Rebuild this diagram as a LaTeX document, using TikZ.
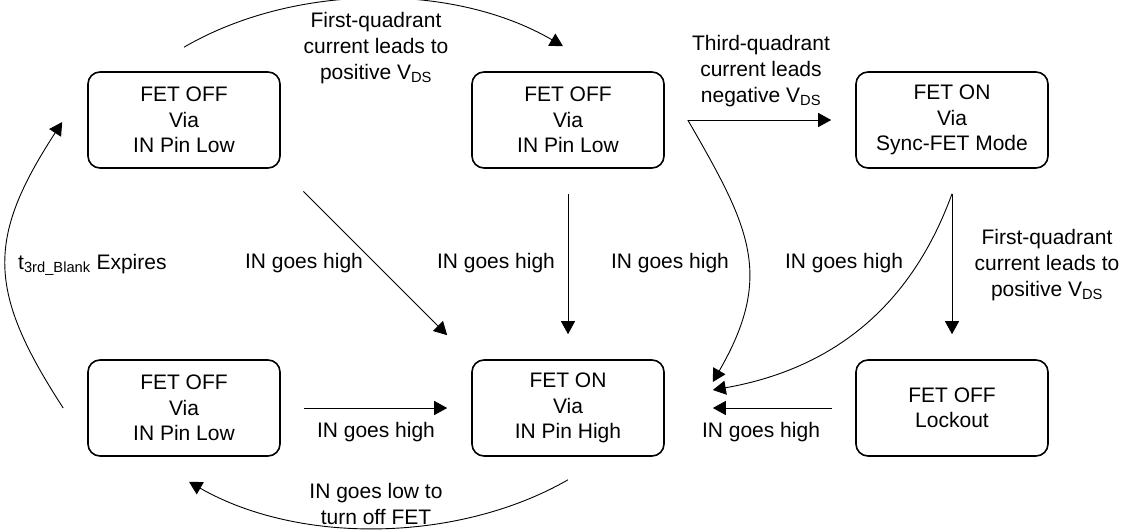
\documentclass[tikz,border=0pt]{standalone}
\usepackage{fontspec}
\setmainfont{Liberation Sans}
\usepackage{tikz}
\usetikzlibrary{arrows.meta,positioning,calc}

\tikzset{
  state/.style={draw, rounded corners=12pt, line width=1.6pt, minimum width=192pt, minimum height=96pt, align=center, font=\fontsize{21}{25.5}\selectfont},
  lbl/.style={inner sep=0pt, align=center, font=\fontsize{21}{26}\selectfont},
  arr/.style={line width=0.9pt, -{Triangle[length=13pt,width=14pt]}}
}

\begin{document}
\begin{tikzpicture}[x=1pt,y=1pt]
  \useasboundingbox (0,0) rectangle (1127,-531);
  % States
  \node[state] (offa) at (184,-120) {FET OFF\\Via\\IN Pin Low};
  \node[state] (offb) at (568,-120) {FET OFF\\Via\\IN Pin Low};
  \node[state] (sync) at (952,-120) {FET ON\\Via\\Sync-FET Mode};
  \node[state] (offc) at (184,-408) {FET OFF\\Via\\IN Pin Low};
  \node[state] (onhi) at (568,-408) {FET ON\\Via\\IN Pin High};
  \node[state] (lock) at (952,-408) {FET OFF\\Lockout};

  % Branch points
  \coordinate (forkb) at ($(offb.east)+(23,0)$);
  \coordinate (forks) at ($(sync.south)+(0,-25)$);

  % Transitions
  \draw[arr] ([yshift=24pt]offa.north) .. controls +(110,64) and +(-110,64) .. ([shift={(-5pt,25pt)}]offb.north);
  \draw[arr, shorten <=32pt, shorten >=34pt] (offa.south east) -- (onhi.north west);
  \draw[arr, shorten <=25pt, shorten >=25pt] (offb) -- (onhi);
  \draw[arr, shorten >=24pt] (forkb) -- (sync);
  \draw[arr] (forkb) to[out=-60, in=60, looseness=1.2] ([shift={(48pt,26pt)}]onhi.east);
  \draw[arr, shorten >=25pt] (forks) -- (lock);
  \draw[arr] (forks) to[out=-110, in=10] ([shift={(48pt,18pt)}]onhi.east);
  \draw[arr, shorten <=23pt, shorten >=48pt] (lock) -- (onhi);
  \draw[arr, shorten <=23pt, shorten >=24pt] (offc) -- (onhi);
  \draw[arr] ([yshift=-23pt]onhi.south) .. controls +(-110,-63) and +(110,-63) .. ([shift={(5pt,-25pt)}]offc.south);
  \draw[arr] ([xshift=-24pt]offc.west) .. controls +(-76,117) and +(-76,-117) .. ([shift={(-25pt,-2pt)}]offa.west);

  % Labels
  \node[lbl] (qa) at (376,-48) {First-quadrant\\current leads to\\positive V\textsubscript{DS}};
  \node[lbl] (qb) at (761,-71) {Third-quadrant\\current leads\\negative V\textsubscript{DS}};
  \node[lbl] (qc) at (1047,-265) {First-quadrant\\current leads to\\positive V\textsubscript{DS}};
  \node[lbl] (ga) at (304,-263) {IN goes high};
  \node[lbl] (gb) at (496,-263) {IN goes high};
  \node[lbl] (gc) at (670,-263) {IN goes high};
  \node[lbl] (gd) at (844,-263) {IN goes high};
  \node[lbl] (ge) at (376,-432) {IN goes high};
  \node[lbl] (gf) at (761,-432) {IN goes high};
  \node[lbl] (lo) at (376,-504) {IN goes low to\\turn off FET};
  \node[lbl, anchor=west] (ex) at (18,-265) {t\textsubscript{3rd\_Blank} Expires};
\end{tikzpicture}
\end{document}
